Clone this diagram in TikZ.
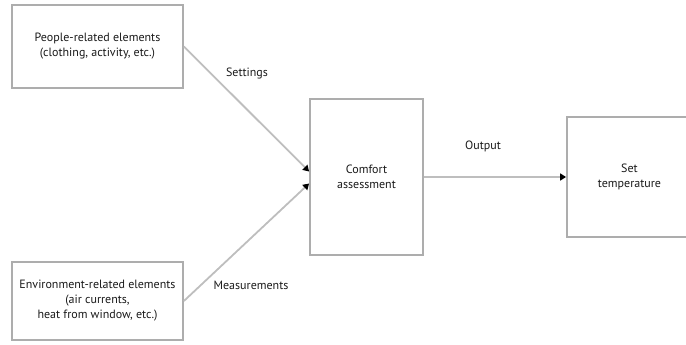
\documentclass[tikz,border=0pt]{standalone}
\usepackage{fontspec}
\setmainfont{PT Sans}
\usetikzlibrary{arrows.meta,calc}
\definecolor{boxline}{HTML}{ADADAD}
\definecolor{wire}{HTML}{BEBEBE}
\definecolor{ink}{HTML}{1A1A1A}
\tikzset{
  blockbox/.style={draw=boxline, line width=1.8pt, fill=white, align=center,
    inner sep=0pt, text=ink, font=\fontsize{12}{15}\selectfont},
  flow/.style={draw=wire, line width=1.8pt,
    -{Triangle[length=6pt,width=7pt,color=black]}},
  tag/.style={text=ink, font=\fontsize{12}{14}\selectfont, inner sep=0pt}
}
\begin{document}
\begin{tikzpicture}[x=1pt,y=-1pt]
  \useasboundingbox (0,0) rectangle (686,345);
  \clip (0,0) rectangle (686,345);

  % input blocks
  \node[blockbox, minimum width=171pt, minimum height=83pt] (people) at (97.5,46.5)
    {People-related elements\\(clothing, activity, etc.)};
  \node[blockbox, minimum width=171pt, minimum height=78pt] (env) at (97.5,301)
    {Environment-related elements\\(air currents,\\heat from window, etc.)};

  % central processing block
  \node[blockbox, minimum width=113pt, minimum height=156pt] (comfort) at (366.5,177)
    {Comfort\\assessment};

  % result block (right side runs past the edge)
  \node[blockbox, minimum width=125pt, minimum height=120pt] (settemp) at (629.5,177)
    {Set\\temperature};

  % connection points on the comfort block
  \coordinate (inA) at ($(comfort.west)+(0,-5.5)$);
  \coordinate (inB) at ($(comfort.west)+(0,6.5)$);

  \draw[flow] (people.east) -- (inA);
  \draw[flow] (env.east) -- (inB);
  \draw[flow] (comfort.east) -- (settemp.west);

  % connector labels
  \node[tag] (lset) at (247,74) {Settings};
  \node[tag] (lmeas) at (251,285) {Measurements};
  \node[tag] (lout) at (483,146) {Output};
\end{tikzpicture}
\end{document}
